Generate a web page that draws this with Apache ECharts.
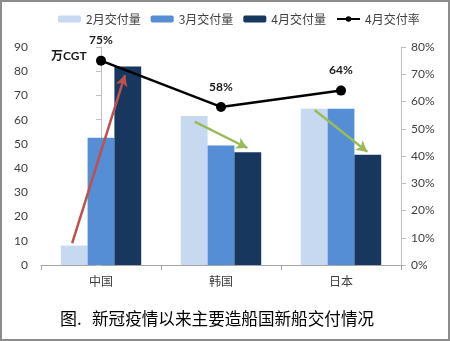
<!DOCTYPE html>
<html>
<head>
<meta charset="utf-8">
<script src="https://cdn.jsdelivr.net/npm/echarts@6/dist/echarts.min.js"></script>
<style>
  html, body { margin: 0; padding: 0; background: #fff; }
  #chart { width: 450px; height: 341px; position: relative; }
  #frame { position: absolute; left: 0; top: 0; width: 450px; height: 341px;
           box-sizing: border-box; border: 2px solid #8c8c8c; pointer-events: none; }
</style>
</head>
<body>
<div style="position:relative;width:450px;height:341px;">
  <div id="chart"></div>
  <div id="frame"></div>
</div>
<script>
// Deliveries by shipbuilding country (10k CGT) and April delivery rate (%)
const countries = ['中国', '韩国', '日本'];
const febDelivery = [8, 61.5, 64.5];
const marDelivery = [52.5, 49.3, 64.5];
const aprDelivery = [82, 46.5, 45.5];
const aprRate = [75, 58, 64];
const leftTicks = { min: 0, max: 90, interval: 10 };
const rightTicks = { min: 0, max: 80, interval: 10 };

// Trend arrows: [start category position, start value, end category position, end value]
const trendArrows = [
  { from: [-0.24, 9], to: [0.2, 78.4], color: '#c0504d' },
  { from: [0.78, 59.2], to: [1.22, 48.3], color: '#9bbb59' },
  { from: [1.78, 64], to: [2.22, 46.7], color: '#9bbb59' }
];

const FONT = 'Lato, "Noto Sans CJK SC", sans-serif';
const CJK = '"Noto Sans CJK SC", sans-serif';

const chart = echarts.init(document.getElementById('chart'), null, { renderer: 'canvas' });

chart.setOption({
  animation: false,
  backgroundColor: '#ffffff',
  textStyle: { fontFamily: FONT },
  legend: {
    data: ['2月交付量', '3月交付量', '4月交付量', '4月交付率'],
    top: 8,
    left: 53,
    itemWidth: 23,
    itemHeight: 7,
    itemGap: 10,
    textStyle: { fontSize: 12, color: '#404040', fontFamily: CJK }
  },
  grid: { left: 41, right: 49, top: 47, bottom: 76 },
  xAxis: [
    {
      type: 'category',
      data: countries,
      axisLine: { lineStyle: { color: '#a6a6a6' } },
      axisTick: { show: true, lineStyle: { color: '#a6a6a6' } },
      axisLabel: { color: '#404040', fontSize: 12, fontFamily: CJK, margin: 10 }
    },
    {
      type: 'value',
      min: -0.5,
      max: 2.5,
      show: false
    }
  ],
  yAxis: [
    {
      type: 'value',
      min: leftTicks.min,
      max: leftTicks.max,
      interval: leftTicks.interval,
      axisLine: { show: true, lineStyle: { color: '#bfbfbf' } },
      axisTick: { show: true, lineStyle: { color: '#bfbfbf' } },
      splitLine: { show: false },
      axisLabel: { color: '#404040', fontSize: 12, margin: 13 }
    },
    {
      type: 'value',
      min: rightTicks.min,
      max: rightTicks.max,
      interval: rightTicks.interval,
      position: 'right',
      axisLine: { show: true, lineStyle: { color: '#bfbfbf' } },
      axisTick: { show: true, lineStyle: { color: '#bfbfbf' } },
      splitLine: { show: false },
      axisLabel: { color: '#404040', fontSize: 12, margin: 10, formatter: '{value}%' }
    }
  ],
  series: [
    {
      name: '2月交付量', type: 'bar', data: febDelivery,
      itemStyle: { color: '#c6d9f1' }, barGap: '0%', barCategoryGap: '33%'
    },
    {
      name: '3月交付量', type: 'bar', data: marDelivery,
      itemStyle: { color: '#558ed5' }, barGap: '0%', barCategoryGap: '33%'
    },
    {
      name: '4月交付量', type: 'bar', data: aprDelivery,
      itemStyle: { color: '#17375e' }, barGap: '0%', barCategoryGap: '33%'
    },
    {
      name: '4月交付率', type: 'line', yAxisIndex: 1, data: aprRate,
      symbol: 'circle', symbolSize: 10,
      lineStyle: { color: '#000', width: 2.5 },
      itemStyle: { color: '#000' },
      label: {
        show: true, position: 'top', distance: 9,
        formatter: '{c}%', fontWeight: 'bold', fontSize: 12, color: '#1a1a1a'
      },
      z: 5
    },
    {
      name: 'arrows', type: 'line', xAxisIndex: 1, yAxisIndex: 0, data: [],
      silent: true,
      markLine: {
        silent: true,
        symbol: ['none', 'arrow'],
        symbolSize: [9, 11],
        label: { show: false },
        lineStyle: { type: 'solid', width: 2.5 },
        data: trendArrows.map(a => [
          { coord: a.from, lineStyle: { color: a.color }, itemStyle: { color: a.color } },
          { coord: a.to }
        ])
      },
      z: 6
    }
  ],
  graphic: [
    {
      type: 'text', left: 51, top: 50,
      style: { text: '万CGT', font: 'bold 12px ' + FONT, fill: '#1a1a1a' }
    },
    {
      type: 'text', left: 60, top: 310,
      style: { text: '图.', font: '17px ' + CJK, fill: '#000' }
    },
    {
      type: 'text', left: 92, top: 310,
      style: { text: '新冠疫情以来主要造船国新船交付情况', font: '16.6px ' + CJK, fill: '#000' }
    }
  ]
});
</script>
</body>
</html>
